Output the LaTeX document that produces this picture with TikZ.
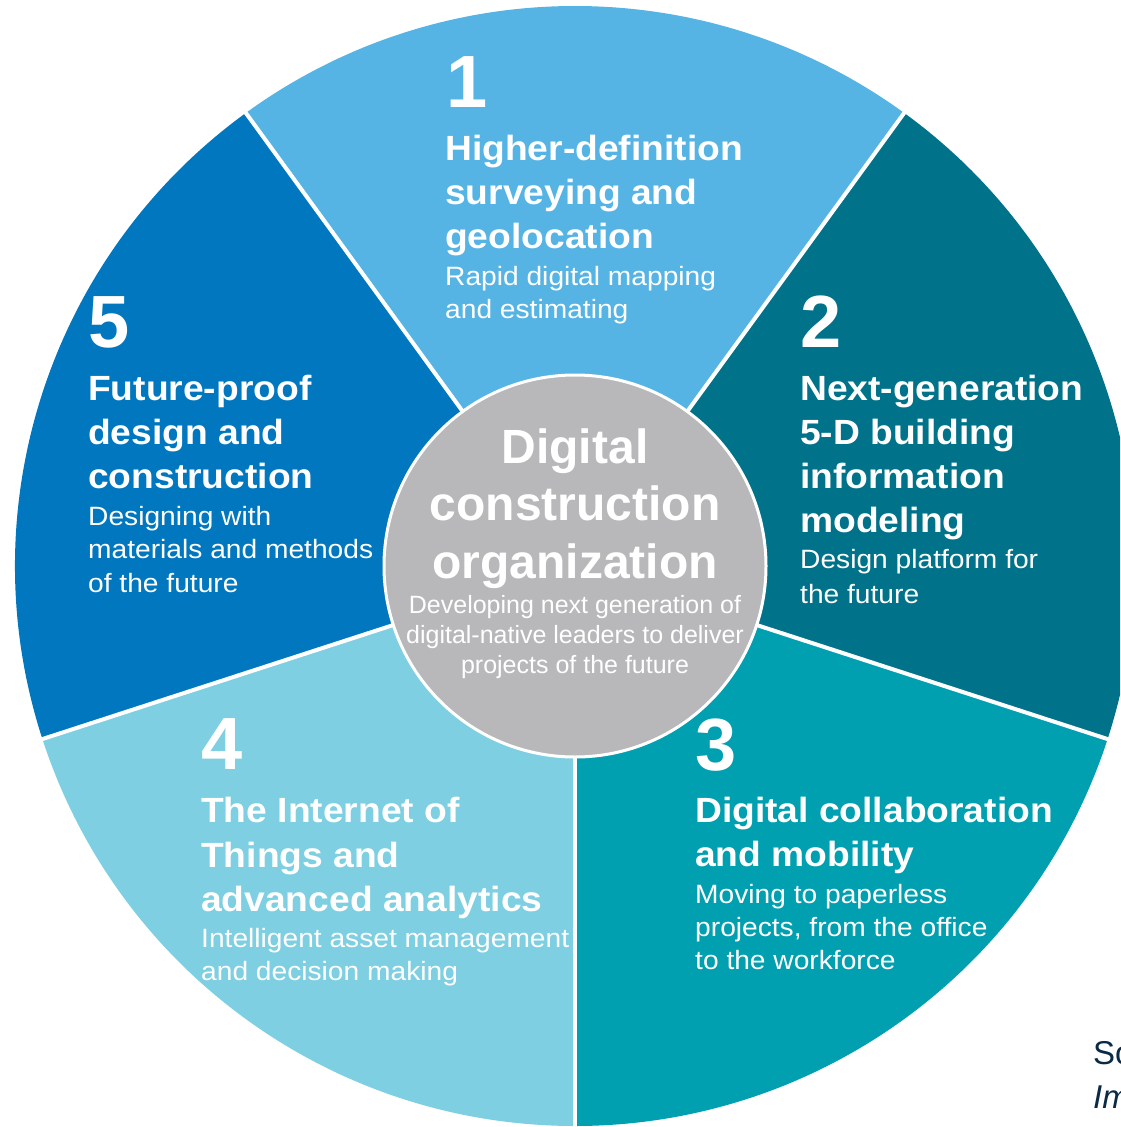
\documentclass[tikz,border=0pt]{standalone}
\usepackage{fontspec}
\setmainfont{Liberation Sans}
\newfontfamily\wideface{Liberation Sans}[FakeStretch=1.063]
\definecolor{secA}{HTML}{56B4E5}
\definecolor{secB}{HTML}{00728A}
\definecolor{secC}{HTML}{00A0B0}
\definecolor{secD}{HTML}{7ECFE1}
\definecolor{secE}{HTML}{0077BE}
\definecolor{hubgray}{HTML}{B8B8BA}
\definecolor{navy}{HTML}{0B2A45}
\begin{document}
\begin{tikzpicture}[x=1pt,y=-1pt,
  gap/.style={draw=white,line width=4pt},
  txt/.style={anchor=base west,inner sep=0pt,text=white},
  num/.style={txt,font=\bfseries\fontsize{74}{74}\selectfont},
  ttl/.style={txt,font=\wideface\bfseries\fontsize{35}{42}\selectfont},
  sub/.style={txt,font=\wideface\fontsize{26.5}{32}\selectfont},
  ctl/.style={anchor=base,inner sep=0pt,text=white,font=\bfseries\fontsize{48}{56}\selectfont},
  csub/.style={anchor=base,inner sep=0pt,text=white,font=\fontsize{25}{30}\selectfont},
  src/.style={anchor=base west,inner sep=0pt,text=navy,font=\fontsize{33}{40}\selectfont}]
\useasboundingbox (0,0) rectangle (1120,1127);
\clip (0,0) rectangle (1120,1127);
\coordinate (C) at (575,566);
% sectors
\fill[secA] (C) -- ++(-126:560) arc[start angle=-126,end angle=-54,radius=560] -- cycle;
\fill[secB] (C) -- ++(-54:560) arc[start angle=-54,end angle=18,radius=560] -- cycle;
\fill[secC] (C) -- ++(18:560) arc[start angle=18,end angle=90,radius=560] -- cycle;
\fill[secD] (C) -- ++(90:560) arc[start angle=90,end angle=162,radius=560] -- cycle;
\fill[secE] (C) -- ++(162:560) arc[start angle=162,end angle=234,radius=560] -- cycle;
% white separators
\path (C) ++(-126:575) coordinate (bA);
\path (C) ++(-54:575) coordinate (bB);
\path (C) ++(18:575) coordinate (bC);
\path (C) ++(90:575) coordinate (bD);
\path (C) ++(162:575) coordinate (bE);
\foreach \b in {bA,bB,bC,bD,bE} \draw[gap] (C) -- (\b);
% hub
\node[circle,fill=hubgray,draw=white,line width=3pt,minimum size=382pt,inner sep=0pt] (hub) at (C) {};
\node[ctl] (h1) at (575,463) {Digital};
\node[ctl] (h2) at (575,520) {construction};
\node[ctl] (h3) at (575,578) {organization};
\node[csub] (h4) at (575,613) {Developing next generation of};
\node[csub] (h5) at (575,643) {digital-native leaders to deliver};
\node[csub] (h6) at (575,673) {projects of the future};
% sector 1
\node[num] (n1) at (446,107) {1};
\node[ttl] (a1) at (445,160) {Higher-definition};
\node[ttl] (a2) at (445,204) {surveying and};
\node[ttl] (a3) at (445,248) {geolocation};
\node[sub] (a4) at (445,285) {Rapid digital mapping};
\node[sub] (a5) at (445,318) {and estimating};
% sector 2
\node[num] (n2) at (800,347) {2};
\node[ttl] (b1) at (800,400) {Next-generation};
\node[ttl] (b2) at (800,444) {5-D building};
\node[ttl] (b3) at (800,488) {information};
\node[ttl] (b4) at (800,532) {modeling};
\node[sub] (b5) at (800,568) {Design platform for};
\node[sub] (b6) at (800,603) {the future};
% sector 3
\node[num] (n3) at (695,770) {3};
\node[ttl] (c1) at (695,822) {Digital collaboration};
\node[ttl] (c2) at (695,866) {and mobility};
\node[sub] (c3) at (695,903) {Moving to paperless};
\node[sub] (c4) at (695,936) {projects, from the office};
\node[sub] (c5) at (695,969) {to the workforce};
% sector 4
\node[num] (n4) at (201,769) {4};
\node[ttl] (d1) at (201,822) {The Internet of};
\node[ttl] (d2) at (201,867) {Things and};
\node[ttl] (d3) at (201,911) {advanced analytics};
\node[sub] (d4) at (201,947) {Intelligent asset management};
\node[sub] (d5) at (201,980) {and decision making};
% sector 5
\node[num] (n5) at (88,347) {5};
\node[ttl] (e1) at (88,400) {Future-proof};
\node[ttl] (e2) at (88,444) {design and};
\node[ttl] (e3) at (88,488) {construction};
\node[sub] (e4) at (88,525) {Designing with};
\node[sub] (e5) at (88,558) {materials and methods};
\node[sub] (e6) at (88,592) {of the future};
% source (cut off at the right edge, as in the reference)
\node[src] (s1) at (1093,1064) {Source:};
\node[src] (s2) at (1093,1108) {\itshape Imagining construction's};
\node[src] (s3) at (1093,1150) {\itshape McKinsey};
\end{tikzpicture}
\end{document}
